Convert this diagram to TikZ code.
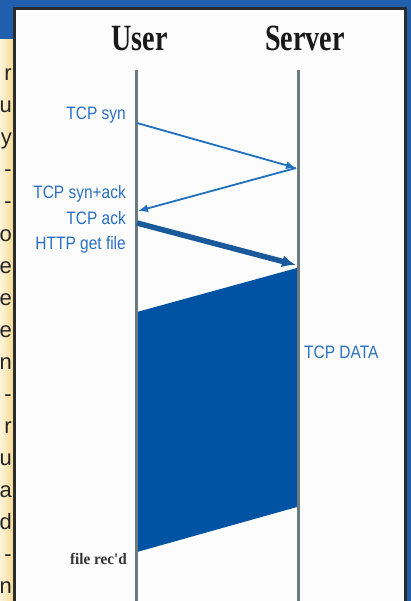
\documentclass[tikz,border=0pt]{standalone}
\usepackage{fontspec}
\setmainfont{Liberation Sans}
\newfontfamily\hdrfont{Liberation Serif}[FakeStretch=0.76]
\newfontfamily\lblfont{Liberation Sans}[FakeStretch=0.86]
\newfontfamily\recfont{Liberation Serif}[FakeStretch=0.95]
\usetikzlibrary{arrows.meta}
\definecolor{bandblue}{HTML}{1F5FAE}
\definecolor{fillblue}{HTML}{0052A3}
\definecolor{lblblue}{HTML}{2A70C2}
\definecolor{arrblue}{HTML}{2070C0}
\definecolor{lifegray}{HTML}{6E7A80}
\definecolor{framegray}{HTML}{2B2B2B}
\definecolor{paleyel}{HTML}{FDF4DA}
\definecolor{deepyel}{HTML}{F6D98F}
\tikzset{
  header/.style={font=\hdrfont\bfseries\fontsize{37}{37}\selectfont, text=black!90, inner sep=0pt, anchor=base},
  msglabel/.style={font=\lblfont\fontsize{18}{18}\selectfont, text=lblblue, inner sep=0pt, anchor=base east},
  lifeline/.style={draw=lifegray, line width=3pt},
  msg/.style={draw=arrblue, line width=1.8pt, -{Latex[length=10pt,width=8pt]}},
  bigmsg/.style={draw=arrblue!80!black, line width=5.5pt, -{Latex[length=14pt,width=12pt]}},
  frag/.style={font=\fontsize{22}{22}\selectfont, text=black!85, inner sep=0pt, anchor=base east}
}
\begin{document}
\begin{tikzpicture}[x=1pt,y=-1pt]
\useasboundingbox (0,0) rectangle (411,601);
% background band
\fill[bandblue] (0,0) rectangle (411,601);
% yellow strip with cut-off text of the adjacent column
\shade[left color=paleyel, right color=deepyel] (0,40) rectangle (14,601);
\begin{scope}
\clip (0,40) rectangle (13,601);
\foreach \ch [count=\i from 0] in {r,u,y,-,-,o,e,e,e,n,-,r,u,a,d,-,n}{
  \node[frag] at (12,{81+32*\i}) {\ch};
}
\end{scope}
% frame
\fill[white!99!black] (14,9) rectangle (405,601);
\draw[framegray, line width=3pt] (14,605) -- (14,9) -- (405,9) -- (405,605);
% headers
\node[header] (user) at (139.5,51) {User};
\node[header] (server) at (305,51) {Server};
% lifeline coordinates
\coordinate (utop) at (136,70);
\coordinate (ubot) at (136,601);
\coordinate (stop) at (298,70);
\coordinate (sbot) at (298,601);
% data block
\coordinate (d1) at (137,312);
\coordinate (d2) at (297,268);
\coordinate (d3) at (297,507);
\coordinate (d4) at (137,552);
\fill[fillblue] (d1) -- (d2) -- (d3) -- (d4) -- cycle;
% lifelines
\draw[lifeline] (utop) -- (ubot);
\draw[lifeline] (stop) -- (sbot);
% messages
\coordinate (u1) at (137,123);
\coordinate (s1) at (296,168);
\coordinate (u2) at (138,211);
\coordinate (u3) at (137,223);
\coordinate (s3) at (296,265);
\draw[msg] (u1) -- (s1);
\draw[msg] (s1) -- (u2);
\draw[bigmsg] (u3) -- (s3);
% labels
\node[msglabel] (lsyn) at (126,120) {TCP syn};
\node[msglabel] (lsynack) at (126,199) {TCP syn+ack};
\node[msglabel] (lack) at (126,225) {TCP ack};
\node[msglabel] (lget) at (126,249) {HTTP get file};
\node[msglabel, anchor=base west] (ldata) at (304,358) {TCP DATA};
\node[font=\recfont\bfseries\fontsize{16}{16}\selectfont, text=black!80, inner sep=0pt, anchor=base east] (lrec) at (127,564) {file rec'd};
\end{tikzpicture}
\end{document}
